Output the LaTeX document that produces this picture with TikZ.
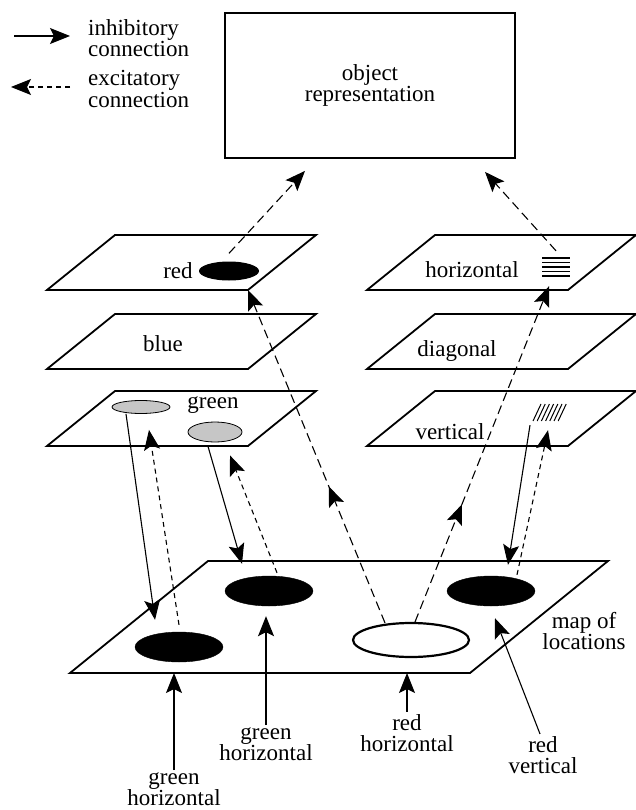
\documentclass[tikz,border=0pt]{standalone}
\usepackage{fontspec}
\setmainfont{Liberation Serif}
\usetikzlibrary{arrows.meta}
\usetikzlibrary{shapes.geometric}
\usetikzlibrary{decorations.markings}

\begin{document}
\begin{tikzpicture}[x=1pt, y=-1pt,
>={Stealth[length=20pt,width=16pt,inset=4pt]},
font=\fontsize{23}{21.5}\selectfont,
lbl/.style={align=center, inner sep=2pt},
spot/.style={ellipse, draw, inner sep=0pt, minimum width=88, minimum height=30},
midar/.style={postaction={decorate}, decoration={markings, mark=at position #1 with {\arrow{>}}}}]
\tikzstyle{plane} = [line width=1.8pt, line join=miter]
\tikzstyle{inh} = [->, line width=1.1pt]
\tikzstyle{exc} = [->, line width=1.1pt, dash pattern=on 5pt off 4pt]
\tikzstyle{excl} = [->, line width=1.1pt, dash pattern=on 9pt off 5pt]
\useasboundingbox (0,0) rectangle (636,810);

% legend
\coordinate (inhA) at (14,36);
\coordinate (inhB) at (70,36);
\draw[inh] (inhA) -- (inhB);
\node[lbl, anchor=west, align=left] (inhtxt) at (86,38) {inhibitory\\connection};
\coordinate (excA) at (11,87);
\coordinate (excB) at (70,87);
\draw[exc] (excB) -- (excA);
\node[lbl, anchor=west, align=left] (exctxt) at (86,89) {excitatory\\connection};

\node[draw, line width=1.8pt, minimum width=290, minimum height=145, align=center] (objrep) at (370,85.5) {object\\representation};

% feature maps
\foreach \x/\y in {47/290, 47/369, 47/446, 367/290, 367/369, 367/446}
  \draw[plane] (\x,\y) -- ++(201,0) -- ++(68,-55) -- ++(-201,0) -- cycle;
\coordinate (redcorner) at (248,290);
\node(redlbl) at (178,271) {red};
\node(bluelbl) at (163,344) {blue};
\node(greenlbl) at (213,405) {green};
\node(horlbl) at (472,270) {horizontal};
\node(diaglbl) at (457,351) {diagonal};
\node(vertlbl) at (450,432) {vertical};

\node[ellipse, fill=black, minimum width=60, minimum height=19, inner sep=0pt] (redspot) at (229,271) {};
\node[ellipse, draw, fill=gray!45, line width=0.8pt, minimum width=58, minimum height=13, inner sep=0pt] (gspotA) at (141,407) {};
\node[ellipse, draw, fill=gray!45, line width=0.8pt, minimum width=54, minimum height=20, inner sep=0pt] (gspotB) at (215,432) {};
\node[minimum width=28, minimum height=22, inner sep=0pt] (hicon) at (556,267) {};
\foreach \yy in {258,262.5,267,271.5,276}
  \draw[line width=1.5pt] (542,\yy) -- (570,\yy);
\node[minimum width=35, minimum height=18, inner sep=0pt] (vicon) at (550,413) {};
\foreach \i in {0,...,6}
  \draw[line width=1pt] (533+\i*4.2,421) -- (541+\i*4.2,404);

% map of locations
\draw[plane] (70,673) coordinate (mapB) -- (470,673) -- (608,561) -- (208,561) -- cycle;
\node[spot, fill=black] (spotA) at (179,647) {};
\node[spot, fill=black] (spotB) at (269,591) {};
\node[spot, fill=white, line width=2.2pt, minimum width=116, minimum height=34] (spotW) at (411,640) {};
\node[spot, fill=black] (spotC) at (491,591) {};
\node[lbl] (maplbl) at (584,631) {map of\\locations};

\node[lbl] (gh1) at (174,789) {green\\horizontal};
\node[lbl] (gh2) at (266,744) {green\\horizontal};
\node[lbl] (rh) at (407,733) {red\\horizontal};
\node[lbl] (rv) at (543,755) {red\\vertical};

\draw[inh] (gh1.north) -- (gh1 |- mapB);
\coordinate (gh2in) at ([yshift=-10pt]spotB.south);
\draw[inh] (gh2.north) -- (gh2 |- gh2in);
\draw[inh] (rh.north) -- (rh |- mapB);
\draw[inh] ([xshift=-3pt]rv.north) -- ([xshift=4pt,yshift=-12pt]spotC.south);

% feature maps <-> locations
\draw[inh] ([xshift=-15pt]gspotA.south) -- ([xshift=-24pt,yshift=12pt]spotA.north);
\draw[exc] ([yshift=7pt]spotA.north) -- ([xshift=8pt,yshift=-16pt]gspotA.south);
\draw[inh] ([xshift=-7pt,yshift=-4pt]gspotB.south) -- ([xshift=-27pt,yshift=12pt]spotB.north);
\draw[exc] ([xshift=8pt,yshift=3pt]spotB.north) -- ([xshift=15pt,yshift=-13pt]gspotB.south);
\draw[inh] ([xshift=-20pt,yshift=-3pt]vicon.south) -- ([xshift=17pt,yshift=11pt]spotC.north);
\draw[exc] ([xshift=26pt,yshift=1pt]spotC.north) -- ([xshift=-2pt,yshift=-8pt]vicon.south);

\draw[excl, midar=0.41] ([xshift=-26pt,yshift=-1pt]spotW.north) -- (redcorner);
\draw[excl, midar=0.35] ([xshift=4pt]spotW.north) -- ([xshift=-7pt,yshift=-8pt]hicon.south);

% up to the object
\draw[excl] ([yshift=8pt]redspot.north) -- ([xshift=-65pt,yshift=-12pt]objrep.south);
\draw[excl] ([yshift=5pt]hicon.north) -- ([xshift=115pt,yshift=-13pt]objrep.south);
\end{tikzpicture}
\end{document}
